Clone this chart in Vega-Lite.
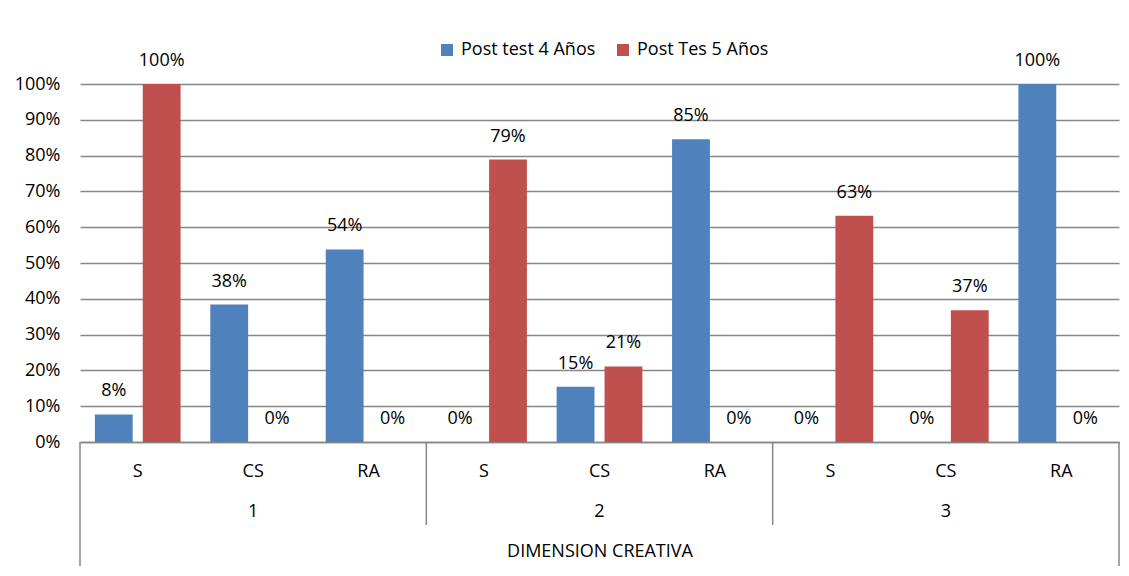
{
  "$schema": "https://vega.github.io/schema/vega-lite/v6.json",
  "width": 1039,
  "height": 358,
  "autosize": {"type": "none"},
  "padding": {"left": 80, "top": 84, "right": 10, "bottom": 134},
  "background": "white",
  "config": {
    "font": "Open Sans",
    "view": {"stroke": null},
    "text": {"font": "Open Sans"}
  },
  "datasets": {
    "barras": [
      {"key": "1|S", "serie": "Post test 4 Años", "valor": 0.077},
      {"key": "1|S", "serie": "Post Tes 5 Años", "valor": 1.0},
      {"key": "1|CS", "serie": "Post test 4 Años", "valor": 0.384},
      {"key": "1|CS", "serie": "Post Tes 5 Años", "valor": 0.0},
      {"key": "1|RA", "serie": "Post test 4 Años", "valor": 0.538},
      {"key": "1|RA", "serie": "Post Tes 5 Años", "valor": 0.0},
      {"key": "2|S", "serie": "Post test 4 Años", "valor": 0.0},
      {"key": "2|S", "serie": "Post Tes 5 Años", "valor": 0.789},
      {"key": "2|CS", "serie": "Post test 4 Años", "valor": 0.154},
      {"key": "2|CS", "serie": "Post Tes 5 Años", "valor": 0.211},
      {"key": "2|RA", "serie": "Post test 4 Años", "valor": 0.846},
      {"key": "2|RA", "serie": "Post Tes 5 Años", "valor": 0.0},
      {"key": "3|S", "serie": "Post test 4 Años", "valor": 0.0},
      {"key": "3|S", "serie": "Post Tes 5 Años", "valor": 0.632},
      {"key": "3|CS", "serie": "Post test 4 Años", "valor": 0.0},
      {"key": "3|CS", "serie": "Post Tes 5 Años", "valor": 0.368},
      {"key": "3|RA", "serie": "Post test 4 Años", "valor": 1.0},
      {"key": "3|RA", "serie": "Post Tes 5 Años", "valor": 0.0}
    ],
    "grupos": [
      {"key": "1|CS", "grupo": "1", "nivel": -0.1955},
      {"key": "2|CS", "grupo": "2", "nivel": -0.1955},
      {"key": "3|CS", "grupo": "3", "nivel": -0.1955}
    ],
    "separadores": [
      {"key": "1|S", "valor": 0, "y2": -0.3464},
      {"key": "2|S", "valor": 0, "y2": -0.2318},
      {"key": "3|S", "valor": 0, "y2": -0.2318}
    ],
    "fin": [
      {"key": "3|RA", "valor": 0, "y2": -0.3464}
    ]
  },
  "encoding": {
    "x": {
      "field": "key", "type": "nominal", "sort": null,
      "scale": {"paddingInner": 0, "paddingOuter": 0},
      "axis": {
        "labelExpr": "split(datum.label, '|')[1]",
        "labelAngle": 0,
        "labelFontSize": 18,
        "labelColor": "#000000",
        "labelPadding": 20,
        "ticks": false,
        "domainColor": "#868686",
        "domainWidth": 1.5,
        "title": "DIMENSION CREATIVA",
        "titleFontSize": 18,
        "titleFontWeight": "normal",
        "titleColor": "#000000",
        "titlePadding": 62
      }
    },
    "y": {
      "field": "valor", "type": "quantitative",
      "scale": {"domain": [0, 1], "nice": false},
      "axis": {
        "values": [0, 0.1, 0.2, 0.3, 0.4, 0.5, 0.6, 0.7, 0.8, 0.9, 1.0],
        "format": ".0%",
        "labelOverlap": false,
        "domain": false,
        "ticks": false,
        "labelPadding": 20,
        "labelFontSize": 18,
        "labelColor": "#000000",
        "gridColor": "#868686",
        "gridWidth": 1.5,
        "title": null
      }
    }
  },
  "layer": [
    {
      "data": {"name": "barras"},
      "mark": {"type": "bar"},
      "encoding": {
        "xOffset": {
          "field": "serie", "type": "nominal", "sort": ["Post test 4 Años", "Post Tes 5 Años"],
          "scale": {"paddingInner": 0.21, "paddingOuter": 0.31}
        },
        "color": {
          "field": "serie", "type": "nominal",
          "sort": ["Post test 4 Años", "Post Tes 5 Años"],
          "scale": {"domain": ["Post test 4 Años", "Post Tes 5 Años"], "range": ["#4F81BD", "#C0504D"]},
          "legend": {
            "title": null,
            "orient": "none",
            "direction": "horizontal",
            "legendX": 358,
            "legendY": -43,
            "symbolType": "square",
            "symbolSize": 144,
            "symbolStrokeWidth": 0,
            "labelFontSize": 18,
            "labelColor": "#000000",
            "labelOffset": 5,
            "columnPadding": 18
          }
        }
      }
    },
    {
      "data": {"name": "barras"},
      "mark": {"type": "text", "baseline": "middle", "dy": -23, "fontSize": 18, "color": "#000000"},
      "encoding": {
        "xOffset": {"field": "serie", "type": "nominal", "sort": ["Post test 4 Años", "Post Tes 5 Años"]},
        "text": {"field": "valor", "type": "quantitative", "format": ".0%"}
      }
    },
    {
      "data": {"name": "grupos"},
      "mark": {"type": "text", "baseline": "middle", "dy": 0, "fontSize": 18, "color": "#000000"},
      "encoding": {
        "y": {"field": "nivel", "type": "quantitative", "scale": {"domain": [0, 1], "nice": false},
          "axis": {
            "values": [0, 0.1, 0.2, 0.3, 0.4, 0.5, 0.6, 0.7, 0.8, 0.9, 1.0],
            "format": ".0%",
            "labelOverlap": false,
            "domain": false,
            "ticks": false,
            "labelPadding": 20,
            "labelFontSize": 18,
            "labelColor": "#000000",
            "gridColor": "#868686",
            "gridWidth": 1.5,
            "title": null
          }},
        "text": {"field": "grupo", "type": "nominal"}
      }
    },
    {
      "data": {"name": "separadores"},
      "mark": {"type": "rule", "color": "#868686", "strokeWidth": 1.5},
      "encoding": {
        "x": {"field": "key", "type": "nominal", "sort": null, "bandPosition": 0},
        "y2": {"field": "y2"}
      }
    },
    {
      "data": {"name": "fin"},
      "mark": {"type": "rule", "color": "#868686", "strokeWidth": 1.5},
      "encoding": {
        "x": {"field": "key", "type": "nominal", "sort": null, "bandPosition": 1},
        "y2": {"field": "y2"}
      }
    }
  ]
}
